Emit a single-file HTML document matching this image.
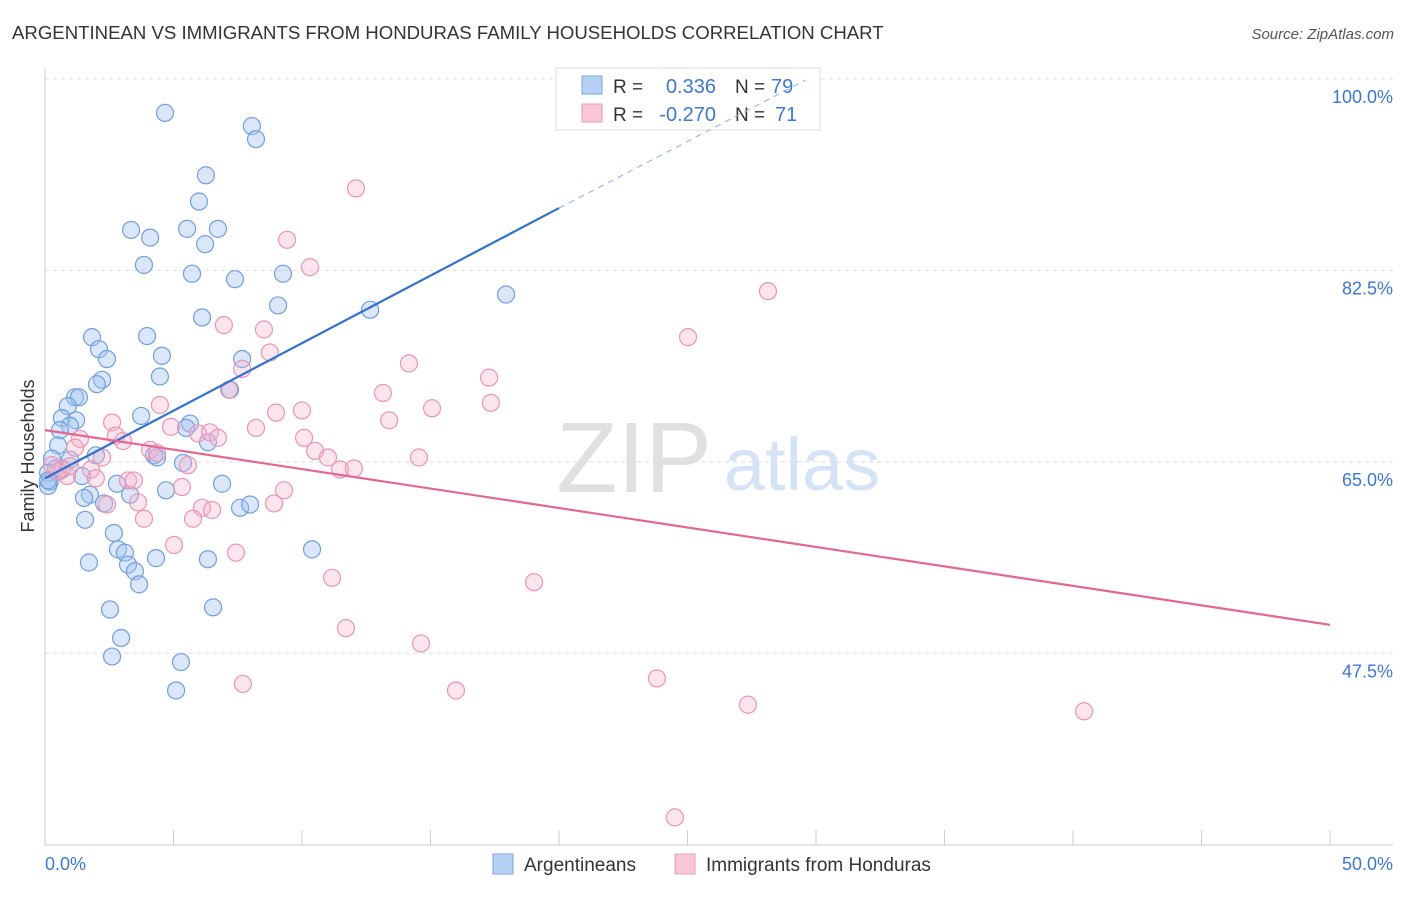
<!DOCTYPE html>
<html><head><meta charset="utf-8"><style>
body{margin:0;background:#fff;font-family:"Liberation Sans",sans-serif}
svg text{font-family:"Liberation Sans",sans-serif}
</style></head><body>
<svg id="chart" width="1406" height="892" xmlns="http://www.w3.org/2000/svg">
<text x="12" y="39" font-size="18.6" fill="#333">ARGENTINEAN VS IMMIGRANTS FROM HONDURAS FAMILY HOUSEHOLDS CORRELATION CHART</text>
<text x="1394" y="39" font-size="15" fill="#555" text-anchor="end" font-style="italic">Source: ZipAtlas.com</text>
<g>
<text x="634" y="492" font-size="100" fill="#e0e0e0" font-family="Liberation Serif" text-anchor="middle">ZIP</text>
<text x="802" y="490" font-size="74" fill="#d4e3f5" text-anchor="middle">atlas</text>
</g>
<g id="grid"></g>
<g id="axes"></g>
<g>
<rect x="556" y="68" width="264" height="62" fill="#fff" stroke="#ddd"/>
<rect x="582" y="76" width="20" height="18" fill="#b5d0f3" stroke="#7aa6e0"/>
<rect x="582" y="104" width="20" height="18" fill="#f9c6d6" stroke="#eb9ab6"/>
<text x="613" y="93" font-size="19" fill="#333">R =</text><text x="716" y="93" font-size="20" fill="#3b78d8" text-anchor="end">0.336</text>
<text x="735" y="93" font-size="19" fill="#333">N =</text><text x="771" y="93" font-size="20" fill="#3b78d8">79</text>
<text x="613" y="121" font-size="19" fill="#333">R =</text><text x="716" y="121" font-size="20" fill="#3b78d8" text-anchor="end">-0.270</text>
<text x="735" y="121" font-size="19" fill="#333">N =</text><text x="775" y="121" font-size="20" fill="#3b78d8">71</text>
</g>
<g id="marks"></g>
<text transform="translate(34,456) rotate(-90)" font-size="18" fill="#333" text-anchor="middle">Family Households</text>
<g>
<rect x="493" y="854" width="20" height="20" fill="#b5d0f3" stroke="#7aa6e0"/>
<text x="524" y="871" font-size="19" fill="#333">Argentineans</text>
<rect x="675" y="854" width="20" height="20" fill="#f9c6d6" stroke="#eb9ab6"/>
<text x="706" y="871" font-size="19" fill="#333">Immigrants from Honduras</text>
</g>
</svg>
<script>
const yTicks=[100,82.5,65,47.5];
const yTickLabels=["100.0%","82.5%","65.0%","47.5%"];
const xTickLabels=["0.0%","50.0%"];
const blueX=[4.67,8.05,8.21,6.26,5.99,3.35,4.09,5.53,6.73,6.23,3.85,5.72,7.39,9.26,9.07,6.11,12.65,17.94,1.83,3.97,2.10,2.41,4.55,7.67,2.22,2.02,4.47,7.20,1.17,1.32,0.89,0.66,3.74,1.21,0.97,0.58,5.64,5.49,6.34,0.51,4.24,4.36,1.98,0.97,0.27,5.37,0.43,0.12,0.66,1.44,0.19,0.12,2.80,6.89,4.71,1.75,1.52,3.31,2.30,7.59,7.98,1.56,2.68,2.84,3.11,10.39,4.32,6.34,1.71,3.23,3.50,3.66,6.54,2.53,2.96,2.61,5.29,5.10,0.12];
const blueY=[96.9,95.7,94.5,91.2,88.8,86.2,85.5,86.3,86.3,84.9,83.0,82.2,81.7,82.2,79.3,78.2,78.9,80.3,76.4,76.5,75.3,74.4,74.7,74.4,72.5,72.1,72.8,71.6,70.9,70.9,70.1,69.0,69.2,68.8,68.3,67.9,68.5,68.1,66.8,66.5,65.6,65.4,65.6,65.2,65.3,64.9,64.4,64.0,64.3,63.7,63.2,62.8,63.0,63.0,62.4,62.0,61.7,62.0,61.2,60.8,61.1,59.7,58.5,57.0,56.7,57.0,56.2,56.1,55.8,55.6,55.0,53.8,51.7,51.5,48.9,47.2,46.7,44.1,63.3];
const pinkX=[12.10,9.42,10.31,28.13,6.96,8.52,25.02,8.75,14.16,7.67,7.16,13.15,17.28,4.47,10.00,8.99,15.06,17.35,13.39,2.61,8.21,4.90,2.76,5.95,6.42,6.73,10.08,1.36,3.04,4.09,4.36,10.51,11.01,1.17,2.22,14.55,5.56,11.48,12.02,1.79,0.66,0.86,0.51,1.98,3.23,3.46,5.33,9.30,3.62,8.91,2.41,6.11,6.50,3.85,5.76,5.02,7.43,11.17,19.03,11.71,14.63,23.81,7.70,15.99,27.35,40.43,24.51,0.27,0.97];
const pinkY=[90.0,85.3,82.8,80.6,77.5,77.1,76.4,75.0,74.0,73.5,71.6,71.3,72.7,70.2,69.7,69.5,69.9,70.4,68.8,68.6,68.1,68.2,67.4,67.6,67.7,67.2,67.2,67.1,66.9,66.1,65.8,66.0,65.4,66.3,65.4,65.4,64.7,64.3,64.4,64.3,64.4,63.7,64.1,63.5,63.3,63.3,62.7,62.4,61.3,61.2,61.1,60.8,60.6,59.8,59.8,57.4,56.7,54.4,54.0,49.8,48.4,45.2,44.7,44.1,42.8,42.2,32.5,64.7,64.6];
const blueTrend=[63.5,88.2,99.9];
const blueTrendX=[0,20,29.6];
const pinkTrend=[67.9,50.1];
const pinkTrendX=[0,50];

const X0=45,X1=1330,Y100=79,PXPER=191.43/17.5;
const sx=v=>X0+(v/50)*(X1-X0);
const sy=v=>Y100+(100-v)*PXPER;
const NS="http://www.w3.org/2000/svg";
function mk(parent,tag,attrs){const e=document.createElementNS(NS,tag);for(const k in attrs)e.setAttribute(k,attrs[k]);parent.appendChild(e);return e;}
const grid=document.getElementById('grid'),axes=document.getElementById('axes'),marks=document.getElementById('marks');
yTicks.forEach((t,i)=>{
 const l=mk(grid,'line',{x1:45,x2:1393,y1:sy(t),y2:sy(t),stroke:'#ddd','stroke-dasharray':'4,4'});
 
 
 const tx=mk(axes,'text',{x:1393,y:sy(t)+24,'font-size':18,fill:'#3b78d8','text-anchor':'end'});
 tx.textContent=yTickLabels[i];
 
 
});
let a=mk(axes,'line',{x1:45,x2:45,y1:68,y2:845,stroke:'#ccc'});


a=mk(axes,'line',{x1:45,x2:1393,y1:845,y2:845,stroke:'#ccc'});


for(let v=0;v<=50;v+=5){
 const t=mk(axes,'line',{x1:sx(v),x2:sx(v),y1:830,y2:845,stroke:'#ccc'});
 
 
}
[[0,'start',45],[50,'end',1393]].forEach((d,i)=>{
 const t=mk(axes,'text',{x:d[2],y:870,'font-size':18,fill:'#3b78d8','text-anchor':d[1]});
 t.textContent=xTickLabels[i];
 
 
});
function pts(xs,ys,fill,stroke,name){
 xs.forEach((x,i)=>{
  const c=mk(marks,'circle',{cx:sx(x),cy:sy(ys[i]),r:8.5,fill:fill,stroke:stroke,'stroke-width':1.2});
  
  
 });
}
pts(blueX,blueY,'rgba(160,196,240,0.4)','#6f9fe0','argentinean-point');
pts(pinkX,pinkY,'rgba(246,180,202,0.35)','#eb94b4','honduras-point');
let tl=mk(marks,'line',{x1:sx(blueTrendX[0]),y1:sy(blueTrend[0]),x2:sx(blueTrendX[1]),y2:sy(blueTrend[1]),stroke:'#2f72d6','stroke-width':2.2});


tl=mk(marks,'line',{x1:sx(blueTrendX[1]),y1:sy(blueTrend[1]),x2:sx(blueTrendX[2]),y2:sy(blueTrend[2]),stroke:'#9bbbe8','stroke-width':1.2,'stroke-dasharray':'6,5'});


tl=mk(marks,'line',{x1:sx(pinkTrendX[0]),y1:sy(pinkTrend[0]),x2:sx(pinkTrendX[1]),y2:sy(pinkTrend[1]),stroke:'#e5678f','stroke-width':2.2});


</script>
</body></html>
